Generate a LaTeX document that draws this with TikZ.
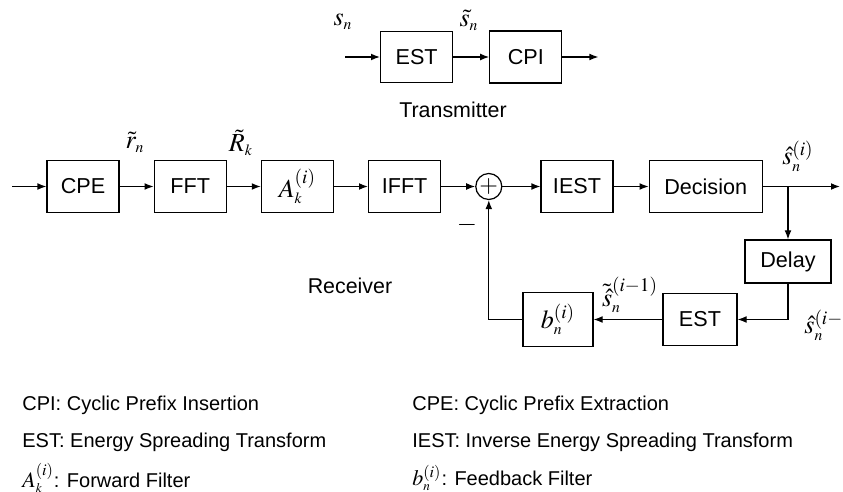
\documentclass[tikz,border=0pt]{standalone}
\usepackage{mathptmx}
\usepackage[no-math]{fontspec}
\setmainfont{Liberation Sans}
\usetikzlibrary{arrows.meta,positioning}
\newcommand{\lowix}[1]{_{\scriptscriptstyle #1}}
\newcommand{\highix}[1]{^{\scriptstyle #1}}

\begin{document}
\begin{tikzpicture}[
  x=1pt, y=1pt,
  node distance=17pt,
  box/.style={draw, line width=0.6pt, minimum width=36pt, minimum height=26pt, inner sep=2pt, font=\fontsize{10.8}{12}\selectfont},
  sumnode/.style={draw, circle, line width=0.6pt, minimum size=13pt, inner sep=0pt, font=\fontsize{12}{12}\selectfont},
  arrow/.style={-{Latex[length=4.5pt,width=3.4pt]}, line width=0.6pt},
  sym/.style={inner sep=0pt, font=\fontsize{13}{15}\selectfont},
  caption/.style={inner sep=0pt, font=\fontsize{10.7}{12}\selectfont},
  legend/.style={anchor=west, inner sep=0pt, font=\fontsize{10}{12}\selectfont}
]
\useasboundingbox (0,0) rectangle (421.5,-246);
% transmitter
\coordinate (txin) at (172.5,-28.5);
\node[box, anchor=west, minimum height=25.5pt] (txest) at (190,-28.5) {EST};
\node[box, right=18pt of txest] (cpi) {CPI};
\coordinate[right=18pt of cpi] (txout);
\node[sym] (sn) at (171.5,-11) {$s\lowix{n}$};
\node[sym] (stn) at (234.5,-10) {$\tilde{s}\lowix{n}$};
\node[caption] (txcap) at (226.5,-55) {Transmitter};
\draw[arrow] (txin) -- (txest);
\draw[arrow] (txest) -- (cpi);
\draw[arrow] (cpi) -- (txout);
% receiver
\coordinate (rxin) at (6,-93.25);
\node[box] (cpe) at (41.5,-93.25) {CPE};
\node[box, right=of cpe] (fft) {FFT};
\node[box, right=of fft, font=\fontsize{13}{15}\selectfont] (afilt) {$A\highix{(i)}\lowix{k}$};
\node[box, right=of afilt] (ifft) {IFFT};
\node[sumnode, right=of ifft] (sum) {$+$};
\node[box, right=19pt of sum] (iest) {IEST};
\node[box, right=17.5pt of iest, minimum width=56.5pt] (dec) {Decision};
\coordinate (split) at (394,-93.25);
\coordinate (rxout) at (420,-93.25);
\node[box, minimum width=43pt, minimum height=21.5pt] (delay) at (394,-130.75) {Delay};
\node[box, minimum width=37pt] (fbest) at (350,-159.75) {EST};
\node[box, minimum width=35pt, minimum height=27pt, font=\fontsize{13}{15}\selectfont] (bfilt) at (279,-159.75) {$b\highix{(i)}\lowix{n}$};
\node[sym] (rtn) at (67.5,-71) {$\tilde{r}\lowix{n}$};
\node[sym] (rtk) at (120.5,-71.5) {$\tilde{R}\lowix{k}$};
\node[sym] (shat) at (399,-78) {$\hat{s}\highix{(i)}\lowix{n}$};
\node[sym] (minus) at (233.5,-112.5) {$-$};
\node[caption] (rxcap) at (175,-143) {Receiver};
\node[sym] (sth) at (315,-147.5) {$\tilde{\hat{s}}\highix{(i-1)}\lowix{n}$};
\node[sym, anchor=west] (shp) at (402,-162.5) {$\hat{s}\highix{(i-1)}\lowix{n}$};
\draw[arrow] (rxin) -- (cpe);
\draw[arrow] (cpe) -- (fft);
\draw[arrow] (fft) -- (afilt);
\draw[arrow] (afilt) -- (ifft);
\draw[arrow] (ifft) -- (sum);
\draw[arrow] (sum) -- (iest);
\draw[arrow] (iest) -- (dec);
\draw[arrow] (dec) -- (rxout);
\draw[arrow] (split) -- (delay);
\draw[arrow] (delay.south) |- (fbest.east);
\draw[arrow] (fbest) -- (bfilt);
\draw[arrow] (bfilt.west) -| (sum.south);
% legend
\node[legend] (lcpi) at (11,-202.5) {CPI: Cyclic Prefix Insertion};
\node[legend] (lcpe) at (206,-202.5) {CPE: Cyclic Prefix Extraction};
\node[legend] (lest) at (11,-221) {EST: Energy Spreading Transform};
\node[legend] (liest) at (206,-221) {IEST: Inverse Energy Spreading Transform};
\node[legend] (lfwd) at (11,-239) {{\fontsize{11}{12}\selectfont$A\highix{(i)}\lowix{k}$}: Forward Filter};
\node[legend] (lfb) at (206,-239) {{\fontsize{11}{12}\selectfont$b\highix{(i)}\lowix{n}$}: Feedback Filter};
\end{tikzpicture}
\end{document}
